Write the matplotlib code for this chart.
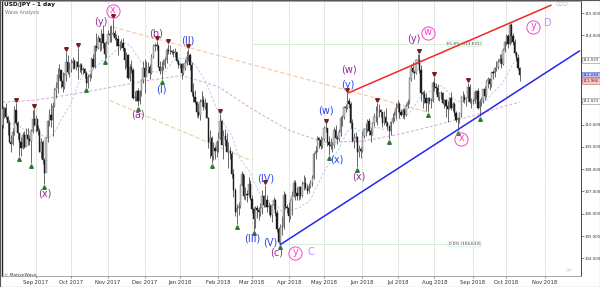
import numpy as np
import pandas as pd
import matplotlib

matplotlib.use("Agg")
import matplotlib.pyplot as plt
from matplotlib.ticker import MultipleLocator, FixedFormatter
from matplotlib.patches import Rectangle
import matplotlib.transforms as mtransforms

# USD/JPY daily bars, one value per trading day, 2017-08-04 .. 2018-10-11
# (FX daily bars open at the previous close, so only the very first open is listed)
FIRST_DAY = "2017-08-04"
FIRST_OPEN = 110.00

HIGH = [
    # Aug 2017
    110.85, 110.80, 110.95, 110.40, 110.20, 109.55, 109.85, 110.85, 110.95, 110.15,
    109.60, 109.45, 109.65, 109.70, 109.85, 109.85, 109.55, 109.80, 110.65, 110.70,
    # Sep 2017
    110.45, 110.00, 109.85, 109.40, 109.30, 108.50, 109.45, 110.20, 110.70, 110.95, 111.00,
    111.65, 111.90, 112.55, 112.70, 112.45, 112.35, 112.30, 113.25, 113.10, 112.80,
    # Oct 2017
    112.95, 113.05, 112.95, 112.85, 113.43, 112.75, 112.75, 112.60, 112.55, 112.40, 112.25,
    112.30, 113.05, 113.15, 113.55, 114.10, 114.00, 113.90, 114.30, 114.45, 113.70, 113.75,
    # Nov 2017
    114.25, 114.40, 114.45, 114.73, 114.25, 114.05, 114.00, 113.75, 113.85, 113.90, 113.45,
    113.25, 113.15, 112.70, 112.90, 112.55, 111.50, 111.55, 111.65, 111.55, 112.05, 112.85,
    # Dec 2017
    112.95, 112.85, 112.80, 112.70, 113.15, 113.60, 113.65, 113.75, 113.60, 112.85, 112.85,
    112.95, 113.05, 113.45, 113.60, 113.55, 113.35, 113.40, 113.45, 113.25, 112.95,
    # Jan 2018
    112.75, 112.75, 112.75, 112.95, 113.30, 113.38, 113.20, 112.80, 111.85, 111.55, 111.05, 110.95,
    111.15, 111.50, 111.30, 111.20, 111.00, 110.35, 109.75, 109.50, 109.20, 109.05, 109.30,
    # Feb 2018
    109.65, 110.48, 110.20, 109.75, 109.80, 109.60, 109.20, 109.00, 108.80, 108.00,
    107.15, 106.45, 106.55, 107.35, 107.90, 107.75, 107.20, 107.05, 107.65, 107.50,
    # Mar 2018
    106.85, 106.30, 106.35, 106.40, 106.30, 106.50, 107.05, 106.85, 107.29, 106.85, 106.55,
    106.45, 106.45, 106.75, 106.65, 106.15, 105.40, 105.55, 105.90, 107.00, 106.95, 106.45,
    # Apr 2018
    106.55, 106.65, 107.00, 107.50, 107.50, 107.20, 107.25, 107.25, 107.45, 107.75, 107.65,
    107.35, 107.40, 107.50, 107.75, 108.75, 109.05, 109.50, 109.45, 109.50, 109.40,
    # May 2018
    109.95, 110.05, 109.85, 109.50, 109.40, 109.20, 109.90, 110.00, 109.55, 109.80, 110.40, 110.45,
    110.85, 110.90, 111.40, 111.20, 111.00, 110.25, 109.60, 109.65, 109.50, 109.10, 109.00,
    # Jun 2018
    109.70, 109.85, 110.05, 110.25, 110.30, 109.85, 110.10, 110.50, 110.85, 110.95, 110.90,
    110.70, 110.55, 110.60, 110.75, 110.15, 109.95, 110.15, 110.50, 110.60, 110.95,
    # Jul 2018
    111.10, 111.00, 110.70, 110.75, 110.75, 110.95, 111.15, 112.15, 112.70, 112.80, 112.45,
    112.95, 113.15, 113.18, 112.65, 111.50, 111.55, 111.40, 111.25, 111.25, 111.20, 111.95,
    # Aug 2018
    112.15, 111.85, 111.80, 111.45, 111.50, 111.45, 111.15, 111.15, 111.05, 111.25, 111.45, 111.00,
    111.00, 110.60, 110.35, 110.55, 111.30, 111.50, 111.35, 111.25, 111.85, 111.80, 111.20,
    # Sep 2018
    111.20, 111.55, 111.55, 111.65, 111.15, 111.25, 111.60, 111.75, 112.00, 112.15,
    112.10, 112.35, 112.45, 112.60, 112.85, 112.95, 113.15, 113.15, 113.45, 113.75,
    # Oct 2018
    114.05, 114.05, 114.55, 114.55, 114.10, 113.85, 113.30, 113.15, 112.60,
]

LOW = [
    # Aug 2017
    109.85, 110.30, 110.25, 109.55, 109.20, 108.75, 109.10, 109.55, 110.00, 109.35,
    108.60, 108.60, 108.90, 108.95, 109.05, 109.10, 109.10, 108.27, 109.60, 109.95,
    # Sep 2017
    109.65, 109.55, 108.75, 108.50, 108.25, 107.32, 107.90, 109.20, 109.95, 109.90, 109.50,
    110.80, 111.20, 111.40, 112.10, 111.65, 111.45, 111.60, 111.95, 112.25, 112.15,
    # Oct 2017
    112.35, 112.50, 112.50, 112.45, 112.05, 112.35, 112.25, 112.25, 112.10, 111.70, 111.65,
    111.95, 112.10, 112.55, 112.55, 113.30, 113.40, 113.30, 113.35, 113.45, 112.95, 113.00,
    # Nov 2017
    113.60, 113.70, 113.70, 113.95, 113.80, 113.50, 113.10, 113.35, 113.45, 113.30, 112.50,
    112.60, 112.05, 111.95, 112.30, 111.15, 111.05, 111.05, 110.84, 110.90, 111.30, 111.85,
    # Dec 2017
    111.40, 112.25, 112.30, 112.05, 112.25, 113.00, 113.30, 113.35, 112.60, 112.25, 112.05,
    112.45, 112.55, 112.75, 113.15, 113.15, 113.15, 113.05, 113.05, 112.75, 112.55,
    # Jan 2018
    112.55, 112.05, 112.20, 112.45, 112.65, 112.85, 112.45, 111.30, 111.00, 110.90, 110.35, 110.30,
    110.20, 110.85, 110.65, 110.70, 110.30, 108.95, 108.50, 108.28, 108.40, 108.45, 108.55,
    # Feb 2018
    108.75, 109.35, 109.10, 108.45, 109.05, 108.75, 108.05, 108.45, 107.60, 106.75,
    105.90, 105.55, 105.95, 106.25, 107.25, 106.65, 106.60, 106.55, 106.75, 106.60,
    # Mar 2018
    106.05, 105.25, 105.35, 105.80, 105.70, 105.90, 106.00, 106.30, 106.30, 106.10, 105.95,
    105.85, 105.65, 106.20, 105.90, 105.20, 104.65, 104.62, 105.05, 105.30, 106.20, 106.05,
    # Apr 2018
    105.65, 105.75, 105.95, 106.75, 106.60, 106.60, 106.60, 106.65, 106.75, 107.05, 107.10,
    106.90, 106.95, 107.15, 107.25, 107.55, 108.45, 108.75, 108.95, 108.90, 108.95,
    # May 2018
    109.25, 109.65, 109.05, 108.65, 108.90, 108.75, 108.95, 109.35, 109.15, 109.25, 109.50, 109.95,
    110.25, 110.55, 110.70, 110.75, 109.85, 109.20, 108.95, 109.20, 108.11, 108.55, 108.50,
    # Jun 2018
    108.75, 109.40, 109.50, 109.65, 109.55, 109.20, 109.55, 109.95, 110.10, 110.00, 110.35,
    110.35, 109.90, 110.00, 109.95, 109.75, 109.35, 109.55, 110.05, 110.15, 110.25,
    # Jul 2018
    110.55, 110.30, 110.40, 110.30, 110.25, 110.40, 110.75, 110.90, 111.95, 112.30, 112.05,
    112.25, 112.70, 112.30, 111.05, 110.75, 110.95, 110.60, 110.55, 110.90, 110.75, 111.00,
    # Aug 2018
    111.50, 111.35, 111.10, 111.05, 111.15, 110.90, 110.75, 110.35, 110.10, 110.70, 110.65, 110.60,
    110.40, 110.10, 109.77, 110.05, 110.35, 111.00, 110.95, 110.85, 111.05, 110.95, 110.75,
    # Sep 2018
    110.90, 110.95, 111.15, 110.70, 110.38, 110.85, 110.95, 111.10, 111.25, 111.65,
    111.55, 111.70, 112.05, 112.15, 112.40, 112.50, 112.75, 112.55, 112.65, 113.25,
    # Oct 2018
    113.55, 113.45, 113.55, 113.65, 113.55, 113.10, 112.85, 112.45, 111.97,
]

CLOSE = [
    # Aug 2017
    110.70, 110.75, 110.35, 110.05, 109.20, 109.15, 109.65, 110.65, 110.05, 109.60,
    109.20, 108.95, 109.55, 109.00, 109.55, 109.35, 109.25, 109.70, 110.25, 110.00,
    # Sep 2017
    110.25, 109.70, 108.75, 109.20, 108.40, 107.85, 109.40, 110.15, 110.45, 110.20, 110.85,
    111.55, 111.65, 112.20, 112.45, 111.95, 111.70, 112.20, 112.80, 112.35, 112.50,
    # Oct 2017
    112.75, 112.85, 112.55, 112.80, 112.60, 112.65, 112.45, 112.50, 112.30, 111.85, 112.15,
    112.20, 112.95, 112.60, 113.50, 113.45, 113.90, 113.70, 114.05, 113.65, 113.15, 113.65,
    # Nov 2017
    114.05, 114.00, 114.05, 114.10, 113.90, 113.85, 113.50, 113.55, 113.65, 113.45, 112.90,
    113.10, 112.10, 112.60, 112.45, 111.20, 111.25, 111.50, 111.05, 111.50, 112.00, 112.55,
    # Dec 2017
    112.15, 112.45, 112.60, 112.30, 113.05, 113.50, 113.55, 113.50, 112.60, 112.40, 112.60,
    112.65, 112.90, 113.35, 113.30, 113.30, 113.25, 113.20, 113.25, 112.85, 112.65,
    # Jan 2018
    112.70, 112.30, 112.55, 112.75, 113.05, 113.10, 112.65, 111.45, 111.25, 111.00, 110.55, 110.45,
    111.00, 111.10, 110.80, 110.95, 110.30, 109.20, 109.40, 108.60, 108.95, 108.80, 109.20,
    # Feb 2018
    109.40, 110.15, 109.10, 109.50, 109.30, 108.75, 108.80, 108.70, 107.80, 107.05,
    106.10, 106.25, 106.35, 107.30, 107.80, 106.80, 106.90, 106.85, 107.35, 106.65,
    # Mar 2018
    106.20, 105.75, 106.25, 106.15, 106.10, 106.25, 106.80, 106.40, 106.60, 106.30, 106.35,
    105.95, 106.40, 106.60, 106.05, 105.30, 104.75, 105.40, 105.40, 106.85, 106.30, 106.25,
    # Apr 2018
    105.90, 106.60, 106.80, 107.40, 106.95, 106.80, 107.20, 106.80, 107.35, 107.40, 107.15,
    107.00, 107.25, 107.40, 107.60, 108.70, 108.80, 109.40, 109.30, 109.05, 109.35,
    # May 2018
    109.85, 109.85, 109.20, 109.10, 109.05, 109.10, 109.75, 109.40, 109.35, 109.65, 110.30, 110.35,
    110.80, 110.75, 111.05, 110.90, 110.05, 109.25, 109.40, 109.45, 108.75, 108.90, 108.80,
    # Jun 2018
    109.50, 109.80, 109.80, 110.15, 109.70, 109.55, 110.05, 110.35, 110.35, 110.60, 110.65,
    110.55, 110.05, 110.35, 110.05, 109.95, 109.70, 110.10, 110.30, 110.45, 110.75,
    # Jul 2018
    110.90, 110.55, 110.45, 110.65, 110.45, 110.85, 111.00, 112.05, 112.55, 112.35, 112.30,
    112.90, 112.90, 112.45, 111.40, 111.35, 111.20, 110.95, 111.20, 111.05, 111.05, 111.85,
    # Aug 2018
    111.70, 111.65, 111.25, 111.40, 111.40, 110.95, 111.10, 110.85, 110.70, 111.20, 110.75, 110.90,
    110.50, 110.20, 110.30, 110.50, 111.25, 111.25, 111.10, 111.20, 111.70, 111.00, 111.05,
    # Sep 2018
    111.05, 111.45, 111.50, 110.75, 111.00, 111.10, 111.60, 111.30, 111.95, 112.05,
    111.80, 112.35, 112.30, 112.55, 112.60, 112.80, 112.95, 112.70, 113.35, 113.70,
    # Oct 2018
    113.95, 113.60, 114.45, 113.95, 113.70, 113.20, 113.00, 112.55, 112.24,
]

# slow moving average (pink dashed) at a few dates
MA_SLOW_DATES = ["2017-08-04", "2017-09-01", "2017-10-02", "2017-11-01", "2017-12-01",
                 "2018-01-02", "2018-02-01", "2018-03-01", "2018-04-02", "2018-05-01",
                 "2018-06-01", "2018-07-02", "2018-08-01", "2018-09-03", "2018-10-01",
                 "2018-10-11"]
MA_SLOW = [111.0, 111.1, 111.35, 111.65, 111.95, 112.2, 111.7, 110.7, 109.75, 109.2,
           109.25, 109.55, 109.95, 110.4, 110.85, 111.0]
MA_FAST_PERIOD = 20

# swing markers
SWING_HIGHS = ["2017-08-16", "2017-08-31", "2017-09-27", "2017-10-06", "2017-11-06",
               "2017-12-12", "2017-12-21", "2018-01-08", "2018-02-02", "2018-03-13",
               "2018-05-02", "2018-05-21", "2018-06-14", "2018-07-19", "2018-08-01",
               "2018-08-29"]
SWING_LOWS = ["2017-08-18", "2017-08-29", "2017-09-08", "2017-10-13", "2017-10-30",
              "2017-11-27", "2017-12-15", "2018-01-26", "2018-02-16", "2018-03-02",
              "2018-03-26", "2018-05-04", "2018-05-29", "2018-06-25", "2018-07-26",
              "2018-08-21", "2018-09-07"]

# channel lines: anchored on two pivots each
RED_LINE = [("2018-05-21", 111.40), ("2018-10-03", 114.55)]
RED_LINE_END = "2018-11-07"
BLUE_LINE = [("2018-03-26", 104.62), ("2018-08-21", 109.77)]
BLUE_LINE_END = "2018-11-30"
PEACH_LINE = [("2017-11-06", 114.37), ("2018-07-26", 110.56)]
KHAKI_LINE = [("2017-11-02", 111.08), ("2018-02-28", 108.40)]

FIB_LEVELS = [("61.8% (113.631)", 113.631, "2018-03-01"), ("0.0% (104.633)", 104.633, "2018-03-26")]
FIB_END = "2018-09-07"
FIB_LABEL_AT = "2018-08-27"

PURPLE_LABELS = [("(y)", "2017-10-26", 114.60), ("(b)", "2017-12-12", 114.10),
                 ("(a)", "2017-11-27", 110.43), ("(x)", "2017-09-08", 106.93),
                 ("(c)", "2018-03-22", 104.28), ("(x)", "2018-05-30", 107.69),
                 ("(w)", "2018-05-22", 112.49), ("(y)", "2018-07-16", 113.83)]
BLUE_LABELS = [("(II)", "2018-01-08", 113.79), ("(I)", "2017-12-15", 111.59),
               ("(IV)", "2018-03-13", 107.60), ("(III)", "2018-03-01", 104.91),
               ("(V)", "2018-03-16", 104.69), ("(w)", "2018-05-02", 110.65),
               ("(x)", "2018-05-11", 108.45), ("(y)", "2018-05-21", 111.77)]
CIRCLED_LABELS = [("x", "2017-11-06", 115.09), ("y", "2018-04-06", 104.24),
                  ("w", "2018-07-26", 114.10), ("x", "2018-08-23", 109.35),
                  ("y", "2018-10-23", 114.37)]
LAVENDER_LABELS = [("C", "2018-04-19", 104.28), ("D", "2018-11-05", 114.55)]

PRICE_BOXES = [("113.033", 112.88, "white", "#8a8a8a", "#333333"),
               ("112.244", 112.244, "#b9c1f2", "#4a5ad0", "#1a237e"),
               ("111.966", 111.966, "#f4c7c7", "#cc6666", "#6b1a1a"),
               ("111.023", 111.05, "white", "#8a8a8a", "#333333")]

Y_TICKS = list(range(104, 116))
Y_HIDDEN = (111, 112, 113)  # covered by the price boxes

PURPLE = "#8e2a92"
BLUE = "#2a3ff0"
PINK = "#ff3fd2"
LAVENDER = "#c28cff"

fig = plt.figure(figsize=(6, 2.87), dpi=100)
fig.patch.set_facecolor("white")
ax = fig.add_axes([2 / 600, 11 / 287, 579 / 600, 275 / 287])

axis_days = pd.bdate_range(FIRST_DAY, "2018-12-31")
pos = {d.strftime("%Y-%m-%d"): i for i, d in enumerate(axis_days)}

high = np.array(HIGH)
low = np.array(LOW)
close = np.array(CLOSE)
n = len(close)
assert len(high) == n and len(low) == n
x = np.arange(n)
opens = np.r_[FIRST_OPEN, close[:-1]]

ax.set_xlim(-0.3, 345.6)
ax.set_ylim(103.21, 115.54)

# month grid
month_pos, month_lab = [], []
for i, d in enumerate(axis_days):
    if i > 0 and d.month != axis_days[i - 1].month and i < 345:
        month_pos.append(i)
        month_lab.append(d.strftime("%b %Y"))
for p in month_pos:
    ax.axvline(p, color="#b8b8b8", lw=0.5, ls=(0, (1.5, 1.5)), zorder=0)

# fibonacci levels
for text, level, start in FIB_LEVELS:
    ax.plot([pos[start], pos[FIB_END]], [level, level], color="#cdeecd", lw=0.6, zorder=1)
    ax.text(pos[FIB_LABEL_AT], level, text, fontsize=3, ha="center", va="center", color="#333333",
            bbox=dict(boxstyle="round,pad=0.15", fc="white", ec="#b8e6b8", lw=0.4), zorder=2)

# moving averages
ma_fast = pd.Series(close).rolling(MA_FAST_PERIOD, min_periods=1).mean()
ax.plot(x, ma_fast, color="#a9c9f0", lw=0.6, ls=(0, (3, 2)), zorder=1)
ax.plot([pos[d] for d in MA_SLOW_DATES], MA_SLOW, color="#d8a6da", lw=0.7, ls=(0, (3, 2)), zorder=1)

# dashed trend lines
for line, color in ((PEACH_LINE, "#f6c6a4"), (KHAKI_LINE, "#ddd3a2")):
    ax.plot([pos[d] for d, _ in line], [v for _, v in line], color=color, lw=0.8,
            ls=(0, (4, 2)), zorder=1)

# candles
up = close >= opens
ax.vlines(x, low, high, color="#505050", lw=0.6, zorder=3)
ax.bar(x[up], (close - opens)[up], bottom=opens[up], width=0.75, color="#c6c6c6",
       edgecolor="#6a6a6a", lw=0.3, zorder=4)
ax.bar(x[~up], (opens - close)[~up], bottom=close[~up], width=0.75, color="#1c1c1c",
       edgecolor="#1c1c1c", lw=0.3, zorder=4)

# swing markers
hi_idx = [pos[d] for d in SWING_HIGHS]
lo_idx = [pos[d] for d in SWING_LOWS]
ax.plot(hi_idx, high[hi_idx] + 0.13, "v", ms=2.6, color="#7a1d1d", zorder=5)
ax.plot(hi_idx, high[hi_idx] + 0.2, "_", ms=3.2, mew=0.6, color="#7a1d1d", zorder=5)
ax.plot(lo_idx, low[lo_idx] - 0.13, "^", ms=2.6, color="#2d7a30", zorder=5)


def channel(anchor, end):
    (d0, v0), (d1, v1) = anchor
    slope = (v1 - v0) / (pos[d1] - pos[d0])
    return [pos[d0], pos[end]], [v0, v0 + slope * (pos[end] - pos[d0])]


rx, ry = channel(RED_LINE, RED_LINE_END)
ax.plot(rx, ry, color="#f02828", lw=1.1, zorder=6, solid_capstyle="butt")
bx, by = channel(BLUE_LINE, BLUE_LINE_END)
ax.plot(bx, by, color="#2626ee", lw=1.1, zorder=6, solid_capstyle="butt")

# wave labels
for labels, color in ((PURPLE_LABELS, PURPLE), (BLUE_LABELS, BLUE), (LAVENDER_LABELS, LAVENDER)):
    for text, d, v in labels:
        ax.text(pos[d], v, text, color=color, fontsize=7, ha="center", va="center", zorder=7)
for text, d, v in CIRCLED_LABELS:
    ax.plot(pos[d], v, "o", ms=9.5, mfc="none", mec=PINK, mew=0.7, zorder=7)
    ax.text(pos[d], v + 0.05, text, color=PINK, fontsize=7, ha="center", va="center", zorder=7)

# right price axis
ax.yaxis.tick_right()
ax.set_yticks(Y_TICKS)
ax.yaxis.set_major_formatter(FixedFormatter(
    ["" if t in Y_HIDDEN else f"{t:.3f}" for t in Y_TICKS]))
ax.yaxis.set_minor_locator(MultipleLocator(0.1))
ax.tick_params(axis="y", which="major", labelsize=2.8, length=1.8, width=0.4, pad=0.6,
               colors="#333333")
ax.tick_params(axis="y", which="minor", length=1.0, width=0.3, colors="#555555")
ax.set_xticks(month_pos)
ax.set_xticklabels(month_lab)
ax.tick_params(axis="x", labelsize=3.8, length=1.5, width=0.4, pad=1.5, colors="#333333")

for side in ("top", "bottom"):
    ax.spines[side].set_color("#9a9a9a")
    ax.spines[side].set_linewidth(0.6)
ax.spines["left"].set_color("#222222")
ax.spines["left"].set_linewidth(1.0)
ax.spines["right"].set_color("#444444")
ax.spines["right"].set_linewidth(0.7)

trans = mtransforms.blended_transform_factory(ax.transAxes, ax.transData)
for text, v, fc, ec, tc in PRICE_BOXES:
    ax.text(1.003, v, text, transform=trans, fontsize=2.8, color=tc, ha="left", va="center",
            clip_on=False, zorder=8,
            bbox=dict(boxstyle="square,pad=0.25", fc=fc, ec=ec, lw=0.4))

# header / footer texts
fig.text(4 / 600, 1 - 2 / 287, "USD/JPY - 1 day", fontsize=4.2, color="#111111", va="top",
         fontweight="bold")
fig.text(5 / 600, 1 - 10 / 287, "Wave Analysis", fontsize=3.4, color="#777777", va="top")
fig.text(4 / 600, 1 - 275 / 287, "\u00a9 MotiveWave", fontsize=3.2, color="#333333", va="center")
fig.text(556 / 600, 1 - 4 / 287, "\u25cb\u25cb\u25cb", fontsize=3.5, color="#9a9a9a", va="center")
fig.text(566 / 600, 1 - 270 / 287, "\u25c7\u25c7", fontsize=3.2, color="#9a9a9a", va="center")

fig.add_artist(Rectangle((0, 0), 1, 1, transform=fig.transFigure, fill=False,
                         ec="#555555", lw=0.8))

fig.savefig("out.png", dpi=100)
